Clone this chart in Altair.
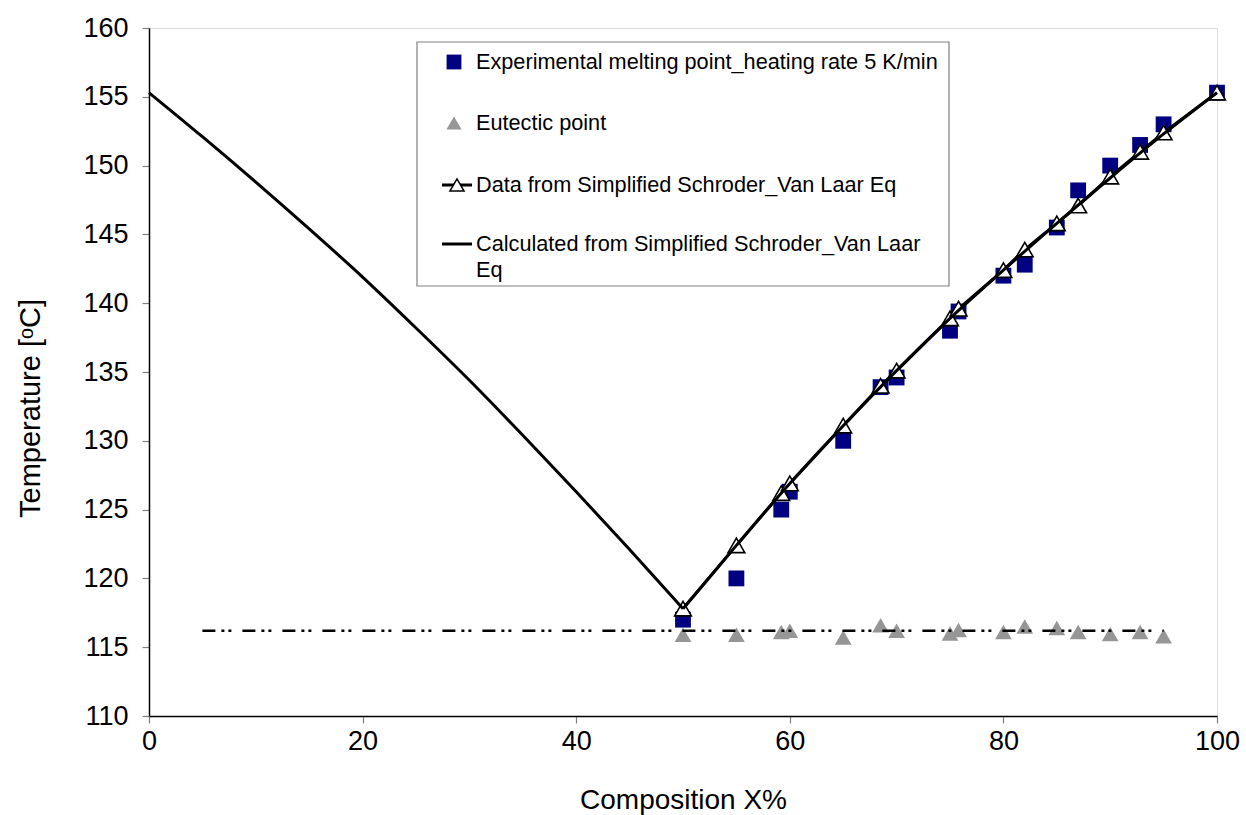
import altair as alt
import pandas as pd

# ---------------- data ----------------
comp = [50, 55, 59.2, 60, 65, 68.5, 70, 75, 75.8, 80, 82, 85, 87, 90, 92.8, 95, 100]
exp_melt = [117.0, 120.0, 125.0, 126.3, 130.0, 133.9, 134.6, 138.0, 139.4, 142.0,
            142.8, 145.5, 148.2, 150.0, 151.5, 153.0, 155.3]
svl_data = [117.8, 122.4, 126.2, 126.9, 131.1, 134.0, 135.1, 138.9, 139.6, 142.4,
            143.9, 145.8, 147.1, 149.2, 151.0, 152.4, 155.3]
eut_comp = comp[:-1]
eutectic = [115.9, 115.9, 116.1, 116.2, 115.7, 116.6, 116.2, 116.0, 116.25, 116.1,
            116.5, 116.4, 116.1, 115.95, 116.1, 115.8]
calc_left_x = [0, 5, 10, 15, 20, 25, 30, 35, 40, 45, 50]
calc_left_y = [155.3, 152.1, 148.8, 145.4, 141.9, 138.2, 134.4, 130.4, 126.3, 122.1, 117.8]
calc_right_x = [50, 55, 60, 65, 70, 75, 80, 85, 90, 95, 100]
calc_right_y = [117.8, 122.4, 126.9, 131.1, 135.1, 138.9, 142.4, 145.8, 149.1, 152.3, 155.3]
eut_line_x = [5, 95]
eut_line_y = [116.2, 116.2]

legend_labels = ["Experimental melting point_heating rate 5 K/min",
                 "Eutectic point",
                 "Data from Simplified Schroder_Van Laar Eq",
                 "Calculated from Simplified Schroder_Van Laar",
                 "Eq"]

df_exp = pd.DataFrame({"x": comp, "y": exp_melt})
df_svl = pd.DataFrame({"x": comp, "y": svl_data})
df_eut = pd.DataFrame({"x": eut_comp, "y": eutectic})
df_calc = pd.concat([
    pd.DataFrame({"x": calc_left_x, "y": calc_left_y, "branch": "left"}),
    pd.DataFrame({"x": calc_right_x, "y": calc_right_y, "branch": "right"}),
], ignore_index=True)
df_eline = pd.DataFrame({"x": eut_line_x, "y": eut_line_y})

FONT = "Liberation Sans"

xs = alt.Scale(domain=[0, 100], nice=False, zero=False)
ys = alt.Scale(domain=[110, 160], nice=False, zero=False)

x_axis = alt.Axis(values=[0, 20, 40, 60, 80, 100], grid=False, domainColor="black",
                  domainWidth=1.5, tickColor="#808080", tickSize=7, tickWidth=1.2,
                  labelFontSize=27, labelPadding=5, labelColor="black", labelFont=FONT,
                  labelFlush=False,
                  title="Composition X%", titleFontSize=28, titleFont=FONT,
                  titleFontWeight="normal", titleColor="black",
                  titleX=534, titleY=84, titleBaseline="middle", titleAlign="center")
y_axis = alt.Axis(values=list(range(110, 161, 5)), grid=False, domainColor="black",
                  domainWidth=1.5, tickColor="#808080", tickSize=7, tickWidth=1.2,
                  labelFontSize=27, labelPadding=14, labelColor="black", labelFont=FONT,
                  labelFlush=False,
                  title="Temperature [ᵒC]", titleFontSize=29, titleFont=FONT,
                  titleFontWeight="normal", titleColor="black",
                  titleX=-119, titleY=380, titleAngle=270, titleBaseline="middle",
                  titleAlign="center")

X = alt.X("x:Q", scale=xs, axis=x_axis)
Y = alt.Y("y:Q", scale=ys, axis=y_axis)

squares = alt.Chart(df_exp).mark_point(shape="square", filled=True, color="#000080",
                                       size=250, opacity=1).encode(x=X, y=Y)
eut_pts = alt.Chart(df_eut).mark_point(shape="triangle-up", filled=True, color="#969696",
                                       size=280, opacity=1).encode(x=X, y=Y)
svl_line = alt.Chart(df_svl).mark_line(color="black", strokeWidth=3).encode(x=X, y=Y)
svl_pts = alt.Chart(df_svl).mark_point(shape="triangle-up", filled=True, fill="white",
                                       stroke="black", strokeWidth=1.6, size=280,
                                       opacity=1).encode(x=X, y=Y)
calc_line = alt.Chart(df_calc).mark_line(color="black", strokeWidth=3,
                                         interpolate="monotone").encode(
    x=X, y=Y, detail="branch:N")
eut_line = alt.Chart(df_eline).mark_line(color="black", strokeWidth=2.6,
                                         strokeDash=[13, 6, 3, 4, 3, 11]).encode(x=X, y=Y)

# ---------------- manual legend ----------------
one = pd.DataFrame({"k": [0]})
leg_box = alt.Chart(one).mark_rect(fill="white", stroke="#808080", strokeWidth=1.2).encode(
    x=alt.value(268), x2=alt.value(800), y=alt.value(14), y2=alt.value(258))
leg_sq = alt.Chart(one).mark_point(shape="square", filled=True, color="#000080", size=220,
                                   opacity=1).encode(x=alt.value(305), y=alt.value(34))
leg_tri = alt.Chart(one).mark_point(shape="triangle-up", filled=True, color="#969696",
                                    size=230, opacity=1).encode(x=alt.value(305), y=alt.value(95))
leg_l3 = alt.Chart(one).mark_rule(color="black", strokeWidth=3).encode(
    x=alt.value(293), x2=alt.value(323), y=alt.value(157))
leg_t3 = alt.Chart(one).mark_point(shape="triangle-up", filled=True, fill="white",
                                   stroke="black", strokeWidth=1.5, size=200,
                                   opacity=1).encode(x=alt.value(308), y=alt.value(157))
leg_l4 = alt.Chart(one).mark_rule(color="black", strokeWidth=3).encode(
    x=alt.value(293), x2=alt.value(323), y=alt.value(216))

def leg_text(label, ypix):
    return alt.Chart(one).mark_text(align="left", baseline="middle", fontSize=21.7,
                                    font=FONT, color="black").encode(
        x=alt.value(327), y=alt.value(ypix), text=alt.value(label))

texts = [leg_text(legend_labels[0], 34), leg_text(legend_labels[1], 95),
         leg_text(legend_labels[2], 157), leg_text(legend_labels[3], 216),
         leg_text(legend_labels[4], 242)]

chart = alt.layer(
    squares, eut_pts, svl_line, svl_pts, calc_line, eut_line,
    leg_box, leg_sq, leg_tri, leg_l3, leg_t3, leg_l4, *texts
).properties(
    width=1068, height=688, autosize="none",
    padding={"left": 149, "top": 28, "right": 29, "bottom": 99},
    background="white"
).configure_view(stroke="#808080", strokeWidth=1.5).configure(font=FONT)

chart.save("out.html", embed_options={"renderer": "svg", "actions": False})
